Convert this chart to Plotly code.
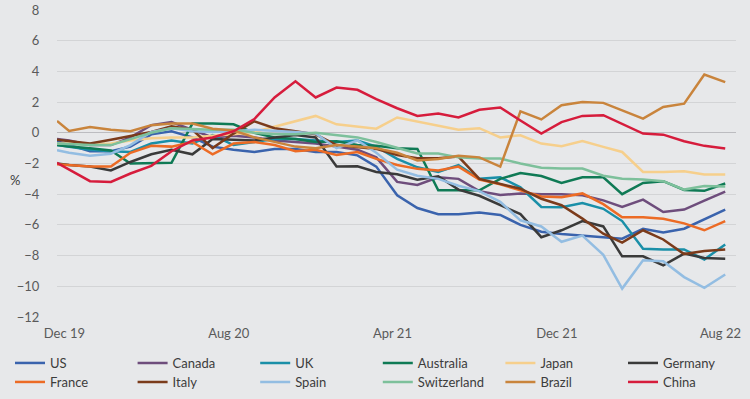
import pandas as pd
import plotly.graph_objects as go

# x dates: first observation mid-Nov 2019, then monthly Dec 2019 .. Aug 2022
dates = ["2019-11-13"] + [d.strftime("%Y-%m-%d") for d in pd.date_range("2019-12-01", "2022-08-01", freq="MS")]

tick_vals = ["2019-11-24", "2020-07-25", "2021-03-25", "2021-11-24", "2022-07-25"]
tick_text = ["Dec 19", "Aug 20", "Apr 21", "Dec 21", "Aug 22"]

us = [-0.55, -0.8, -1.2, -1.2, -0.9, -0.1, 0.1, -0.3, -0.9, -1.1, -1.25, -1.05, -1.05, -1.25, -1.25, -1.47,
      -2.2, -4.07, -4.9, -5.3, -5.3, -5.2, -5.35, -6.0, -6.45, -6.6, -6.7, -6.8, -6.9, -6.25, -6.5, -6.25, -5.65, -5.0]
canada = [-0.4, -0.5, -0.8, -0.8, -0.3, 0.5, 0.7, 0.2, -0.3, -0.2, -0.3, -0.5, -0.6, -0.7, -0.9, -1.1,
          -1.6, -3.2, -3.4, -2.9, -3.0, -3.8, -4.05, -3.96, -4.0, -4.0, -4.07, -4.4, -4.83, -4.35, -5.16, -5.0, -4.42, -3.83]
uk = [-0.8, -0.9, -1.1, -1.2, -1.25, -0.7, -0.5, -0.7, -0.15, -0.8, -0.6, -0.4, -0.4, -0.5, -0.6, -0.5,
      -0.9, -1.7, -2.25, -2.55, -2.1, -3.0, -2.9, -3.55, -4.83, -4.85, -4.57, -4.95, -5.75, -7.55, -7.6, -7.6, -8.25, -7.27]
australia = [-0.8, -0.9, -1.0, -1.15, -2.0, -1.97, -1.95, 0.6, 0.6, 0.55, 0.0, -0.3, -0.4, -0.6, -0.55, -0.8,
             -0.85, -1.0, -1.05, -3.75, -3.75, -3.75, -3.0, -2.62, -2.82, -3.27, -2.9, -2.9, -4.0, -3.27, -3.15, -3.72, -3.78, -3.3]
japan = [-0.7, -0.7, -0.75, -0.7, -0.5, -0.35, -0.3, -0.3, -0.2, -0.1, 0.05, 0.4, 0.75, 1.1, 0.55, 0.42,
         0.27, 1.0, 0.75, 0.45, 0.2, 0.3, -0.3, -0.16, -0.7, -0.88, -0.53, -0.92, -1.25, -2.55, -2.55, -2.5, -2.72, -2.72]
germany = [-2.0, -2.1, -2.2, -2.45, -1.9, -1.4, -1.1, -1.4, -0.4, -0.45, -0.5, -0.3, -0.15, -0.3, -2.2, -2.18,
           -2.55, -2.7, -3.05, -2.83, -3.7, -4.1, -4.7, -5.3, -6.8, -6.35, -5.75, -6.1, -8.05, -8.05, -8.63, -7.87, -8.15, -8.2]
france = [-2.05, -2.1, -2.2, -2.2, -1.3, -0.85, -0.9, -0.6, -1.4, -0.7, -0.6, -0.8, -1.2, -1.1, -1.45, -1.25,
          -1.7, -2.1, -2.35, -2.45, -2.2, -3.05, -3.35, -3.75, -4.15, -4.2, -3.95, -4.65, -5.5, -5.5, -5.6, -5.9, -6.35, -5.75]
italy = [-0.45, -0.55, -0.7, -0.45, -0.2, 0.05, 0.42, 0.2, -1.0, -0.05, 0.75, 0.3, 0.1, -0.1, -0.8, -0.95,
         -1.05, -1.45, -1.65, -1.65, -1.55, -3.0, -3.3, -3.64, -4.3, -4.72, -5.59, -6.57, -7.15, -6.35, -6.95, -7.9, -7.7, -7.6]
spain = [-1.14, -1.3, -1.5, -1.36, -0.8, 0.05, 0.3, 0.1, 0.05, 0.1, 0.2, 0.15, 0.05, -0.05, -1.0, -0.5,
         -1.3, -2.4, -2.8, -3.0, -3.45, -3.8, -4.5, -5.7, -6.1, -7.1, -6.7, -7.95, -10.15, -8.3, -8.37, -9.4, -10.1, -9.23]
switzerland = [-0.7, -0.75, -0.8, -0.8, -0.4, 0.0, 0.3, 0.25, 0.2, 0.2, 0.0, -0.1, -0.1, 0.0, -0.15, -0.3,
               -0.6, -1.0, -1.35, -1.35, -1.6, -1.68, -1.68, -2.0, -2.28, -2.33, -2.33, -2.8, -3.0, -3.05, -3.15, -3.7, -3.47, -3.5]
brazil = [0.77, 0.12, 0.38, 0.2, 0.1, 0.5, 0.6, 0.6, 0.27, 0.15, -0.3, -0.6, -0.9, -1.0, -0.8, -0.9,
          -1.0, -1.3, -1.8, -1.7, -1.5, -1.6, -2.2, 1.4, 0.87, 1.8, 2.0, 1.95, 1.45, 0.92, 1.68, 1.9, 3.8, 3.3]
china = [-1.95, -2.4, -3.15, -3.2, -2.65, -2.15, -1.2, -0.5, -0.3, 0.1, 0.9, 2.3, 3.35, 2.3, 2.95, 2.8,
         2.2, 1.6, 1.1, 1.25, 1.0, 1.5, 1.65, 0.8, -0.05, 0.7, 1.1, 1.15, 0.6, -0.05, -0.12, -0.55, -0.85, -1.03]

series = [
    ("US", us, "#3a63ad"),
    ("Canada", canada, "#6e4d7c"),
    ("UK", uk, "#1a8fa8"),
    ("Australia", australia, "#0f7a55"),
    ("Japan", japan, "#f6cf8c"),
    ("Germany", germany, "#3a3a3a"),
    ("France", france, "#ec6b25"),
    ("Italy", italy, "#7b3b1b"),
    ("Spain", spain, "#93bde2"),
    ("Switzerland", switzerland, "#7dc09b"),
    ("Brazil", brazil, "#c9843c"),
    ("China", china, "#d61c3c"),
]

W, H = 750, 399
bg = "#e7e8ea"
fig = go.Figure()
legends = {}
for i, (name, vals, col) in enumerate(series):
    key = "legend" if i == 0 else f"legend{i + 1}"
    fig.add_trace(go.Scatter(x=dates, y=vals, mode="lines", name=name, legend=key,
                             line=dict(color=col, width=2.5)))
    row, colidx = divmod(i, 6)
    legends[key] = dict(orientation="h", xref="container", yref="container",
                        xanchor="left", yanchor="top",
                        x=(10 + colidx * 122.6) / W, y=(H - 348 - row * 19) / H,
                        font=dict(size=13, color="#3c3c3c"), bgcolor="rgba(0,0,0,0)",
                        itemwidth=30)

fig.update_layout(
    width=W, height=H,
    margin=dict(l=57, r=14, t=10, b=82, autoexpand=False),
    paper_bgcolor=bg, plot_bgcolor=bg,
    font=dict(family="Lato, sans-serif", size=13, color="#5a5a5a"),
    showlegend=True,
    xaxis=dict(type="date", range=["2019-11-13", "2022-08-17"], tickvals=tick_vals, ticktext=tick_text,
               showgrid=False, zeroline=False, showline=False, ticks="outside", ticklen=4,
               tickcolor=bg, tickfont=dict(size=13, color="#5a5a5a")),
    yaxis=dict(range=[-12, 8], dtick=2, showgrid=True, gridcolor="#d3d4d6", gridwidth=1,
               zeroline=True, zerolinecolor="#bcbcc0", zerolinewidth=1, showline=False,
               ticks="outside", ticklen=14, tickcolor=bg, tickfont=dict(size=13, color="#5a5a5a")),
    annotations=[dict(text="%", x=-0.072, y=0.446, xref="paper", yref="paper", showarrow=False,
                      font=dict(size=13, color="#3c3c3c"))],
    **legends,
)

fig.write_html("out.html", config={"displayModeBar": False},
               post_script="document.body.style.margin='0';")
